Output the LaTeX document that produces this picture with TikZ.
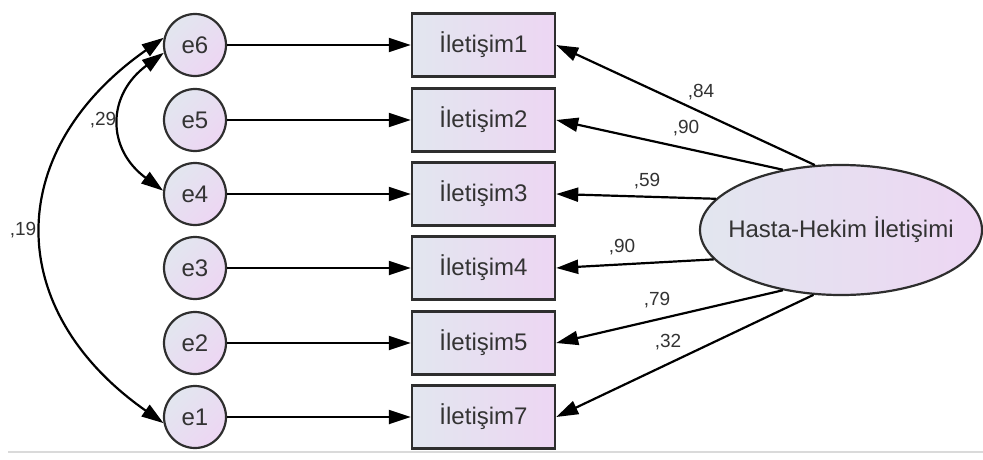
\documentclass[tikz,border=0pt]{standalone}
\usepackage{fontspec}
\setmainfont{Liberation Sans}
\usetikzlibrary{arrows.meta,shapes.geometric}
\definecolor{fillL}{HTML}{E2E6EF}
\definecolor{fillR}{HTML}{EDD6F3}
\definecolor{edge}{HTML}{2E2E2E}
\definecolor{txt}{HTML}{333333}
\definecolor{rule}{HTML}{DADADA}
\begin{document}
\begin{tikzpicture}[x=1pt,y=-1pt,
  errnode/.style={circle,draw=edge,line width=2.2pt,minimum size=62pt,inner sep=0pt,
    shading=axis,left color=fillL,right color=fillR,shading angle=45,
    font=\fontsize{24}{26}\selectfont,text=txt},
  obsbox/.style={rectangle,draw=edge,line width=2.4pt,minimum width=143pt,minimum height=63pt,
    inner sep=0pt,left color=fillL,right color=fillR,font=\fontsize{24}{26}\selectfont,text=txt},
  latent/.style={ellipse,draw=edge,line width=2.2pt,minimum width=282pt,minimum height=130pt,
    inner sep=0pt,left color=fillL,right color=fillR},
  latenttext/.style={font=\fontsize{24}{26}\selectfont,text=txt,inner sep=0pt},
  arr/.style={-{Triangle[length=22pt,width=14pt]},line width=2.2pt,draw=black},
  darr/.style={{Triangle[length=22pt,width=14pt]}-{Triangle[length=22pt,width=14pt]},line width=2.2pt,draw=black},
  coef/.style={font=\fontsize{19}{21}\selectfont,text=txt,inner sep=0pt}
]
\useasboundingbox (0,0) rectangle (983,460);
\draw[rule,line width=2pt] (8,452) -- (983,452);

\foreach \i/\y in {6/45,5/120,4/194,3/268,2/343,1/417}{
  \node[errnode] (e\i) at (195,\y) {e\i};
}
\node[obsbox] (b1) at (483.5,45) {İletişim1};
\node[obsbox] (b2) at (483.5,120) {İletişim2};
\node[obsbox] (b3) at (483.5,194) {İletişim3};
\node[obsbox] (b4) at (483.5,268) {İletişim4};
\node[obsbox] (b5) at (483.5,343) {İletişim5};
\node[obsbox] (b7) at (483.5,417) {İletişim7};

\node[latent] (hh) at (841,230) {};
\node[latenttext] (hht) at (hh.center) {Hasta-Hekim İletişimi};

\draw[arr] (e6) -- (b1);
\draw[arr] (e5) -- (b2);
\draw[arr] (e4) -- (b3);
\draw[arr] (e3) -- (b4);
\draw[arr] (e2) -- (b5);
\draw[arr] (e1) -- (b7);

\draw[arr] (hh.112) -- (b1.east);
\draw[arr] (hh.134) -- (b2.east);
\draw[arr] (hh.166.6) -- (b3.east);
\draw[arr] (hh.193.2) -- (b4.east);
\draw[arr] (hh.226) -- (b5.east);
\draw[arr] (hh.247) -- (b7.east);

\node[coef] (l1) at (701,92) {,84};
\node[coef] (l2) at (686,128) {,90};
\node[coef] (l3) at (647,181) {,59};
\node[coef] (l4) at (622,247) {,90};
\node[coef] (l5) at (657,300) {,79};
\node[coef] (l6) at (668,342) {,32};

\draw[darr] (e6.167) .. controls +(-161,113) and +(-161,-113) .. (e1.191);
\draw[darr] (e6.194) .. controls +(-57,42) and +(-57,-42) .. (e4.174);

\node[coef] (c1) at (103,120) {,29};
\node[coef] (c2) at (23,230) {,19};
\end{tikzpicture}
\end{document}
